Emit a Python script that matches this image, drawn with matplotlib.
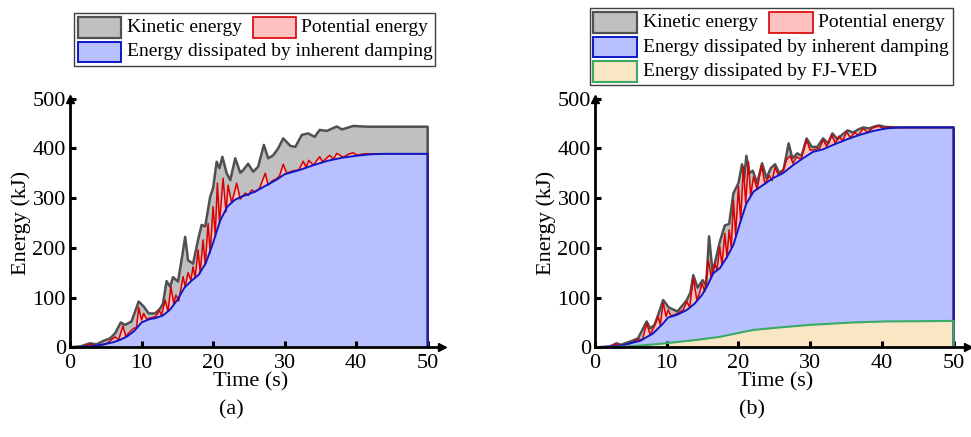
import numpy as np
import matplotlib
matplotlib.use("Agg")
import matplotlib.pyplot as plt
from matplotlib.patches import Rectangle

plt.rcParams['font.family'] = ['Liberation Serif', 'DejaVu Serif']

# ---- (a) datos ----
t_total_a = [0, 1.5, 2.8, 3.7, 4.7, 5.6, 6.3, 7.1, 7.7, 8.6, 9.6, 10.3, 11.0, 11.9, 12.6, 13.0,
             13.5, 14.0, 14.4, 15.1, 15.6, 16.1, 16.5, 17.2, 17.9, 18.4, 18.9, 19.6, 20.0, 20.5,
             20.9, 21.3, 21.9, 22.4, 23.1, 23.8, 24.2, 24.9, 25.6, 26.3, 27.1, 27.7, 28.4, 29.1,
             29.8, 30.8, 31.5, 32.4, 33.3, 34.2, 34.9, 35.9, 37.3, 38.0, 39.6, 41.5, 50]
e_total_a = [0, 2, 8, 6, 13, 18, 28, 50, 45, 52, 92, 82, 68, 68, 78, 88,
             133, 122, 141, 132, 176, 222, 175, 168, 216, 246, 243, 303, 320, 373,
             360, 383, 350, 336, 380, 351, 356, 369, 353, 363, 407, 380, 386, 400,
             420, 405, 403, 427, 430, 423, 437, 435, 444, 438, 445, 443.5, 443.5]

t_pot_a = [0, 2.0, 2.8, 3.5, 5.0, 6.3, 6.8, 7.4, 7.8, 8.3, 8.9, 9.3, 9.6, 10.0, 10.3, 10.7,
           11.5, 12.0, 12.5, 12.8, 13.3, 13.7, 14.1, 14.5, 14.8, 15.2, 15.8, 16.1, 16.5, 16.9,
           17.2, 17.5, 17.9, 18.2, 18.6, 18.9, 19.3, 19.6, 20.0, 20.3, 20.6, 20.9, 21.4, 21.8,
           22.1, 22.6, 23.3, 23.8, 24.5, 24.9, 25.4, 25.9, 26.5, 27.3, 27.7, 28.3, 28.8, 29.3,
           29.8, 30.3, 31.0, 32.0, 32.6, 33.0, 33.4, 34.0, 34.9, 35.3, 36.3, 36.8, 37.3, 38.2,
           39.0, 39.6, 40.2, 41.0, 42.0, 50]
e_pot_a = [0, 1, 7, 3, 6, 21, 15, 43, 22, 30, 38, 40, 80, 55, 68, 57,
           60, 62, 74, 64, 95, 72, 122, 88, 105, 93, 142, 122, 150, 135,
           162, 140, 196, 150, 216, 165, 249, 190, 283, 225, 330, 250, 340, 272,
           326, 290, 330, 298, 310, 305, 316, 312, 320, 350, 326, 335, 338, 345,
           368, 350, 354, 357, 374, 362, 376, 366, 383, 373, 386, 378, 390, 382,
           389, 391, 386, 389, 389, 389]

t_damp_a = [0, 2, 4, 6, 7, 8, 9, 10, 11, 12, 13, 14, 15, 16, 17, 18, 19, 20, 21, 22, 23,
            24, 25, 26, 27, 28, 29, 30, 32, 34, 36, 38, 40, 42, 44, 50]
e_damp_a = [0, 1, 4, 10, 15, 22, 33, 50, 56, 59, 64, 76, 95, 120, 134, 146, 170, 210, 255, 283, 296,
            303, 308, 314, 322, 330, 338, 348, 356, 366, 375, 381, 385, 388, 389, 389]

# ---- (b) ----
t_total_b = [0, 2.0, 3.0, 3.6, 5.0, 6.0, 7.2, 7.7, 8.3, 8.8, 9.5, 10.3, 11.5, 12.8, 13.3, 13.7,
             14.3, 15.0, 15.5, 15.9, 16.4, 16.8, 17.4, 18.1, 18.7, 19.3, 20.0, 20.5, 20.8, 21.1,
             21.5, 22.0, 22.6, 23.3, 23.9, 24.5, 25.1, 25.7, 26.3, 27.0, 27.5, 28.2, 28.8, 29.5,
             30.2, 31.0, 31.8, 32.5, 33.1, 33.8, 34.5, 35.2, 36.0, 36.7, 37.4, 38.2, 39.0, 39.6,
             40.5, 42, 50]
e_total_b = [0, 1, 8, 5, 12, 18, 52, 38, 45, 65, 95, 80, 72, 95, 110, 145,
             120, 135, 125, 223, 150, 175, 212, 245, 248, 310, 330, 368, 340, 385,
             350, 355, 330, 370, 340, 360, 368, 350, 358, 410, 380, 390, 385, 420,
             403, 403, 420, 410, 430, 418, 428, 436, 432, 438, 442, 440, 444, 446,
             443, 442, 442]

t_pot_b = [0, 2.0, 3.0, 3.6, 5.0, 6.0, 6.6, 7.2, 7.7, 8.2, 8.8, 9.1, 9.5, 9.9, 10.2, 10.6,
           11.5, 12.3, 12.8, 13.2, 13.7, 14.2, 14.6, 14.9, 15.3, 15.8, 16.2, 16.7, 17.0, 17.4,
           17.7, 18.1, 18.4, 18.7, 19.0, 19.3, 19.6, 20.0, 20.3, 20.7, 21.0, 21.4, 21.7, 22.1,
           22.6, 23.2, 23.7, 24.3, 24.7, 25.1, 25.6, 26.2, 26.7, 27.2, 27.6, 28.1, 28.7, 29.5,
           30.0, 30.7, 31.3, 31.8, 32.3, 33.0, 33.5, 34.0, 34.5, 35.1, 35.6, 36.2, 36.7, 37.4,
           38.0, 38.7, 39.5, 40.2, 41, 42, 50]
e_pot_b = [0, 1, 7, 3, 8, 16, 15, 48, 25, 40, 62, 45, 90, 62, 75, 63,
           68, 75, 92, 80, 139, 95, 110, 129, 112, 176, 140, 169, 155, 202,
           165, 229, 180, 236, 200, 296, 225, 323, 255, 363, 290, 373, 305, 343,
           318, 366, 328, 345, 335, 362, 345, 355, 377, 385, 370, 383, 378, 417,
           396, 398, 400, 417, 404, 427, 410, 425, 415, 433, 421, 432, 426, 440,
           432, 441, 445, 440, 443, 442, 442]

t_damp_b = [0, 3.5, 6.3, 8.1, 9.5, 10.2, 11.4, 12.8, 13.9, 14.9, 15.6, 16.5, 17.4, 18.3, 19.3,
            20.2, 21.1, 22.1, 23.4, 24.8, 26.2, 27.6, 29.0, 30.4, 31.8, 33.2, 35.1, 36.9, 38.8,
            40.6, 42.5, 50]
e_damp_b = [0, 3, 13, 28, 48, 60, 65, 75, 88, 105, 122, 149, 159, 179, 206,
            249, 289, 313, 326, 340, 350, 366, 380, 393, 398, 407, 418, 427, 435,
            440, 442, 442]

t_fj_b = [0, 3.5, 5.8, 9.1, 10.4, 14.2, 17.4, 19.7, 22.1, 25.8, 29.9, 36.0, 40.6, 50]
e_fj_b = [0, 1, 3, 7, 9, 15, 21, 28, 35, 40, 45, 50, 52, 53]

# colores
c_kin_f, c_kin_l = '#c0c0c0', '#505050'
c_pot_f, c_pot_l = '#ffc0c0', '#d80000'
c_dmp_f, c_dmp_l = '#b8c0ff', '#0c18c8'
c_fj_f, c_fj_l = '#f8e6c4', '#3aaa66'

W, H = 971, 437
fig = plt.figure(figsize=(W / 100, H / 100), dpi=100)


def area(ax, t, e, fc, lc, lw):
    t = np.asarray(t, float)
    e = np.asarray(e, float)
    ax.fill_between(t, 0, e, color=fc, lw=0)
    ax.plot(np.append(t, t[-1]), np.append(e, 0), color=lc, lw=lw, solid_joinstyle='round')


def style(ax, ylab_x):
    ax.set_xlim(0, 52)
    ax.set_ylim(0, 500)
    for s in ['top', 'right']:
        ax.spines[s].set_visible(False)
    for s in ['left', 'bottom']:
        ax.spines[s].set_linewidth(2.0)
        ax.spines[s].set_zorder(5)
    ax.set_xticks([0, 10, 20, 30, 40, 50])
    ax.set_yticks([0, 100, 200, 300, 400, 500])
    ax.tick_params(direction='in', length=4, width=2.2, labelsize=16, pad=3)
    ax.tick_params(axis='x', pad=5)
    ax.plot(1, 0, '>k', ms=6, transform=ax.transAxes, clip_on=False, zorder=6)
    ax.plot(0, 1, '^k', ms=6, transform=ax.transAxes, clip_on=False, zorder=6)
    ax.set_xlabel('Time (s)', fontsize=16)
    ax.set_ylabel('Energy (kJ)', fontsize=16)
    ax.xaxis.set_label_coords(0.485, -0.1)
    ax.yaxis.set_label_coords(ylab_x, 0.5)


axa = fig.add_axes([70 / W, 1 - 347.3 / H, 372 / W, 248.7 / H])
area(axa, t_total_a, e_total_a, c_kin_f, c_kin_l, 1.8)
area(axa, t_pot_a, e_pot_a, c_pot_f, c_pot_l, 1.1)
area(axa, t_damp_a, e_damp_a, c_dmp_f, c_dmp_l, 1.4)
style(axa, -0.105)

axb = fig.add_axes([595 / W, 1 - 347.3 / H, 373 / W, 248.7 / H])
area(axb, t_total_b, e_total_b, c_kin_f, c_kin_l, 1.8)
area(axb, t_pot_b, e_pot_b, c_pot_f, c_pot_l, 1.1)
area(axb, t_damp_b, e_damp_b, c_dmp_f, c_dmp_l, 1.4)
area(axb, t_fj_b, e_fj_b, c_fj_f, c_fj_l, 1.5)
style(axb, -0.105)


# leyendas dibujadas a mano (pixeles desde arriba-izquierda)
def box(x0, y0, x1, y1, fc, ec, lw):
    fig.add_artist(Rectangle((x0 / W, 1 - y1 / H), (x1 - x0) / W, (y1 - y0) / H,
                             transform=fig.transFigure, fc=fc, ec=ec, lw=lw))


def label(x, y, s):
    fig.text(x / W, 1 - y / H, s, fontsize=14, va='center', ha='left')


box(74, 13, 435, 66, 'white', '#404040', 1.0)
box(78, 17, 121, 38, c_kin_f, c_kin_l, 1.6)
label(127, 27.5, 'Kinetic energy')
box(253, 17, 296, 38, c_pot_f, c_pot_l, 1.2)
label(301, 27.5, 'Potential energy')
box(78, 42, 121, 62, c_dmp_f, c_dmp_l, 1.4)
label(127, 52, 'Energy dissipated by inherent damping')

box(590, 8, 953, 85, 'white', '#404040', 1.0)
box(593, 12, 637, 33, c_kin_f, c_kin_l, 1.6)
label(643, 22.5, 'Kinetic energy')
box(769, 12, 813, 33, c_pot_f, c_pot_l, 1.2)
label(818, 22.5, 'Potential energy')
box(593, 37, 637, 57, c_dmp_f, c_dmp_l, 1.4)
label(643, 47, 'Energy dissipated by inherent damping')
box(593, 61, 637, 82, c_fj_f, c_fj_l, 1.5)
label(643, 71.5, 'Energy dissipated by FJ-VED')

fig.text(231 / W, 1 - 410 / H, '(a)', fontsize=16, ha='center', va='center')
fig.text(752 / W, 1 - 410 / H, '(b)', fontsize=16, ha='center', va='center')

fig.savefig('out.png', dpi=100)
